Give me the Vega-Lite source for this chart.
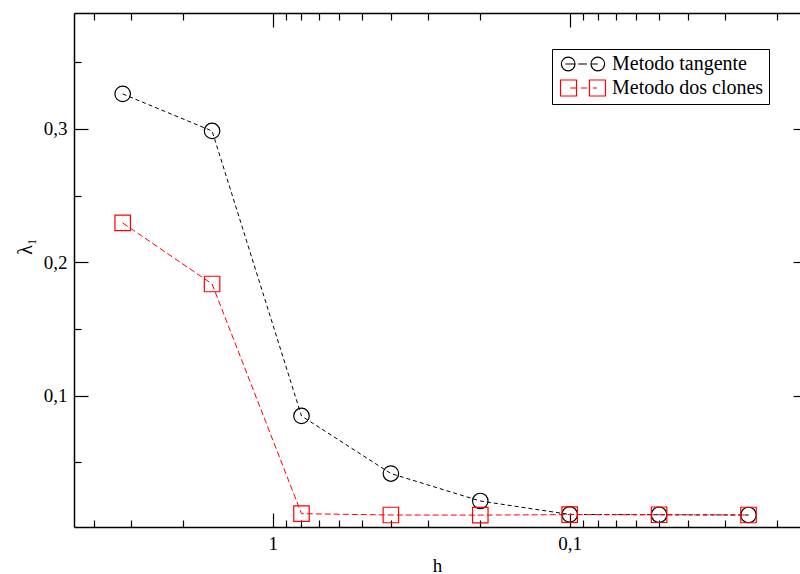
{
  "$schema": "https://vega.github.io/schema/vega-lite/v6.json",
  "width": 726,
  "height": 514,
  "autosize": {"type": "none"},
  "padding": {"left": 74, "top": 13, "right": 0, "bottom": 47},
  "background": "white",
  "config": {
    "view": {"stroke": null},
    "font": "Liberation Serif",
    "axis": {
      "labelFont": "Liberation Serif",
      "titleFont": "Liberation Serif",
      "labelFontSize": 19,
      "titleFontSize": 19,
      "labelColor": "black",
      "titleColor": "black",
      "titleFontWeight": "normal",
      "domainColor": "black",
      "domainWidth": 1.5,
      "tickColor": "black",
      "tickWidth": 1.2,
      "grid": false
    }
  },
  "data": {
    "values": [
      {"h": 3.2, "lambda": 0.3263, "method": "Metodo tangente"},
      {"h": 1.6, "lambda": 0.2985, "method": "Metodo tangente"},
      {"h": 0.8, "lambda": 0.0847, "method": "Metodo tangente"},
      {"h": 0.4, "lambda": 0.0415, "method": "Metodo tangente"},
      {"h": 0.2, "lambda": 0.0209, "method": "Metodo tangente"},
      {"h": 0.1, "lambda": 0.0108, "method": "Metodo tangente"},
      {"h": 0.05, "lambda": 0.0106, "method": "Metodo tangente"},
      {"h": 0.025, "lambda": 0.0104, "method": "Metodo tangente"},
      {"h": 3.2, "lambda": 0.2295, "method": "Metodo dos clones"},
      {"h": 1.6, "lambda": 0.1837, "method": "Metodo dos clones"},
      {"h": 0.8, "lambda": 0.0114, "method": "Metodo dos clones"},
      {"h": 0.4, "lambda": 0.0104, "method": "Metodo dos clones"},
      {"h": 0.2, "lambda": 0.0103, "method": "Metodo dos clones"},
      {"h": 0.1, "lambda": 0.0107, "method": "Metodo dos clones"},
      {"h": 0.05, "lambda": 0.0106, "method": "Metodo dos clones"},
      {"h": 0.025, "lambda": 0.0104, "method": "Metodo dos clones"}
    ]
  },
  "resolve": {
    "axis": {"x": "independent", "y": "independent"},
    "scale": {"color": "independent", "shape": "independent"}
  },
  "layer": [
    {
      "transform": [{"filter": "datum.method === 'Metodo tangente'"}],
      "mark": {"type": "line", "color": "black", "strokeWidth": 1, "strokeDash": [4, 3]},
      "encoding": {
        "x": {
          "field": "h", "type": "quantitative",
          "scale": {"type": "log", "domain": [0.01677, 4.667], "reverse": true, "nice": false},
          "axis": {
            "orient": "bottom", "title": "h", "titlePadding": 3,
            "values": [1, 0.1], "ticks": false, "labelPadding": 7,
            "labelFont": "Liberation Serif", "labelFontSize": 19,
            "titleFont": "Liberation Serif", "titleFontSize": 19,
            "labelExpr": "replace(format(datum.value, '~g'), '.', ',')"
          }
        },
        "y": {
          "field": "lambda", "type": "quantitative",
          "scale": {"domain": [0.0014, 0.387], "nice": false, "zero": false},
          "axis": {
            "orient": "left", "title": "λ₁", "titlePadding": 8, "titleY": 233,
            "values": [0.1, 0.2, 0.3], "ticks": false, "labelPadding": 7,
            "labelFont": "Liberation Serif", "labelFontSize": 19,
            "titleFont": "Liberation Serif", "titleFontSize": 20,
            "labelExpr": "replace(format(datum.value, '.1f'), '.', ',')"
          }
        }
      }
    },
    {
      "transform": [{"filter": "datum.method === 'Metodo dos clones'"}],
      "mark": {"type": "line", "color": "red", "strokeWidth": 1, "strokeDash": [6, 3]},
      "encoding": {
        "x": {
          "field": "h", "type": "quantitative",
          "axis": {
            "orient": "bottom", "title": null, "labels": false, "domain": false,
            "values": [4, 3, 2, 1, 0.9, 0.8, 0.7, 0.6, 0.5, 0.4, 0.3, 0.2, 0.1, 0.09, 0.08, 0.07, 0.06, 0.05, 0.04, 0.03, 0.02],
            "tickSize": {"condition": {"test": "datum.value === 1 || datum.value === 0.1", "value": -14}, "value": -7}
          }
        },
        "y": {
          "field": "lambda", "type": "quantitative",
          "axis": {
            "orient": "left", "title": null, "labels": false, "domain": false,
            "values": [0.05, 0.1, 0.15, 0.2, 0.25, 0.3, 0.35],
            "tickSize": {"condition": {"test": "datum.value === 0.1 || datum.value === 0.2 || datum.value === 0.3", "value": -14}, "value": -7}
          }
        }
      }
    },
    {
      "mark": {"type": "point", "filled": false, "strokeWidth": 1.2, "size": 240, "opacity": 1},
      "encoding": {
        "x": {
          "field": "h", "type": "quantitative",
          "axis": {
            "orient": "top", "title": null, "labels": false, "domain": true,
            "values": [4, 3, 2, 1, 0.9, 0.8, 0.7, 0.6, 0.5, 0.4, 0.3, 0.2, 0.1, 0.09, 0.08, 0.07, 0.06, 0.05, 0.04, 0.03, 0.02],
            "tickSize": {"condition": {"test": "datum.value === 1 || datum.value === 0.1", "value": -14}, "value": -7}
          }
        },
        "y": {
          "field": "lambda", "type": "quantitative",
          "axis": {
            "orient": "right", "title": null, "labels": false, "domain": false, "offset": 7,
            "values": [0.05, 0.1, 0.15, 0.2, 0.25, 0.3, 0.35],
            "tickSize": {"condition": {"test": "datum.value === 0.1 || datum.value === 0.2 || datum.value === 0.3", "value": -14}, "value": -7}
          }
        },
        "color": {
          "field": "method", "type": "nominal",
          "scale": {"domain": ["Metodo tangente", "Metodo dos clones"], "range": ["black", "red"]},
          "legend": null
        },
        "shape": {
          "field": "method", "type": "nominal",
          "scale": {"domain": ["Metodo tangente", "Metodo dos clones"], "range": ["circle", "square"]},
          "legend": null
        }
      }
    },
    {
      "transform": [{"filter": "false"}],
      "mark": {"type": "point", "filled": false, "strokeWidth": 1.2, "opacity": 1},
      "encoding": {
        "color": {
          "field": "method", "type": "nominal",
          "scale": {"domain": ["Metodo tangente", "Metodo dos clones"], "range": ["black", "red"]},
          "legend": {
            "title": null,
            "orient": "none",
            "legendX": 478,
            "legendY": 36,
            "strokeColor": "black",
            "fillColor": "white",
            "padding": 5,
            "rowPadding": 3,
            "symbolSize": 256,
            "symbolOffset": 16,
            "labelOffset": 19,
            "labelFont": "Liberation Serif",
            "labelFontSize": 20,
            "labelColor": "black",
            "symbolStrokeWidth": 1.2
          }
        },
        "shape": {
          "field": "method", "type": "nominal",
          "scale": {
            "domain": ["Metodo tangente", "Metodo dos clones"],
            "range": [
              "M -2.7 0 A 0.85 0.85 0 1 0 -1.0 0 A 0.85 0.85 0 1 0 -2.7 0 M 1.0 0 A 0.85 0.85 0 1 0 2.7 0 A 0.85 0.85 0 1 0 1.0 0 M -2.2 0 L -1.0 0 M -0.6 0 L 0.5 0 M 1.0 0 L 1.85 0",
              "M -2.81 -1 L -0.81 -1 L -0.81 1 L -2.81 1 Z M 0.81 -1 L 2.81 -1 L 2.81 1 L 0.81 1 Z M -1.6 0 L -0.81 0 M -0.25 0 L 0.5 0 M 1.25 0 L 1.75 0"
            ]
          }
        }
      }
    }
  ]
}
